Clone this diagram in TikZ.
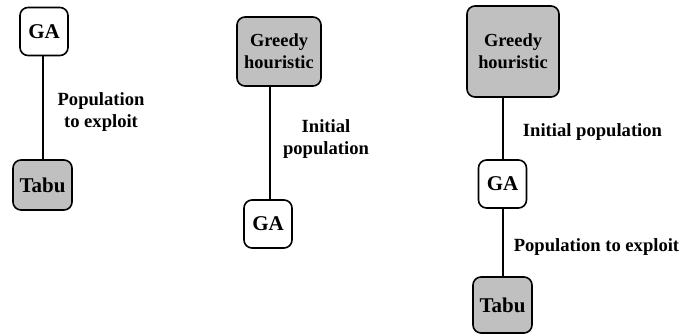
\documentclass[tikz,border=0pt]{standalone}
\usepackage{fontspec}
\setmainfont{Liberation Serif}[BoldFont={Liberation Serif Bold}]
\definecolor{boxgray}{RGB}{192,192,192}
\begin{document}
\begin{tikzpicture}[x=1pt,y=-1pt,
  block/.style={draw=black,line width=1.6pt,rounded corners=8pt,inner sep=0pt,
    align=center,font=\rmfamily\bfseries},
  plain/.style={block,fill=white,minimum width=48pt,minimum height=48pt,font=\rmfamily\fontsize{21}{24}\selectfont\bfseries},
  shaded/.style={block,fill=boxgray},
  link/.style={draw=black,line width=1.3pt},
  lbl/.style={font=\rmfamily\fontsize{18.6}{22.5}\selectfont\bfseries,align=center,inner sep=0pt}]
\useasboundingbox (0,0) rectangle (682,336);

% GA followed by tabu search
\node[plain] (gaA) at (44,31.5) {GA};
\node[shaded,minimum width=59pt,minimum height=50pt,font=\rmfamily\fontsize{21}{24}\selectfont\bfseries] (tabuA) at (42.5,185) {Tabu};
\draw[link] (tabuA.north -| 43,0) -- (gaA.south -| 43,0);
\node[lbl] (popA) at (101,112) {Population\\to exploit};

% greedy heuristic seeding the GA
\node[shaded,minimum width=84pt,minimum height=69pt,font=\rmfamily\fontsize{18.4}{22}\selectfont\bfseries] (grB) at (279,51.5) {Greedy\\houristic};
\node[plain] (gaB) at (268,224) {GA};
\draw[link] (gaB.north -| 270,0) -- (grB.south -| 270,0);
\node[lbl] (iniB) at (326,139) {Initial\\population};

% greedy heuristic, GA and tabu search chained
\node[shaded,minimum width=92pt,minimum height=91pt,font=\rmfamily\fontsize{18.4}{22}\selectfont\bfseries] (grC) at (513,51.5) {Greedy\\houristic};
\node[plain] (gaC) at (502.5,184) {GA};
\node[shaded,minimum width=59pt,minimum height=56pt,font=\rmfamily\fontsize{21}{24}\selectfont\bfseries] (tabuC) at (502.5,305) {Tabu};
\draw[link] (gaC.north -| 503,0) -- (grC.south -| 503,0);
\draw[link] (gaC.south -| 503,0) -- (tabuC.north -| 503,0);
\node[lbl] (iniC) at (592.5,132) {Initial population};
\node[lbl] (popC) at (596.5,247) {Population to exploit};
\end{tikzpicture}
\end{document}
